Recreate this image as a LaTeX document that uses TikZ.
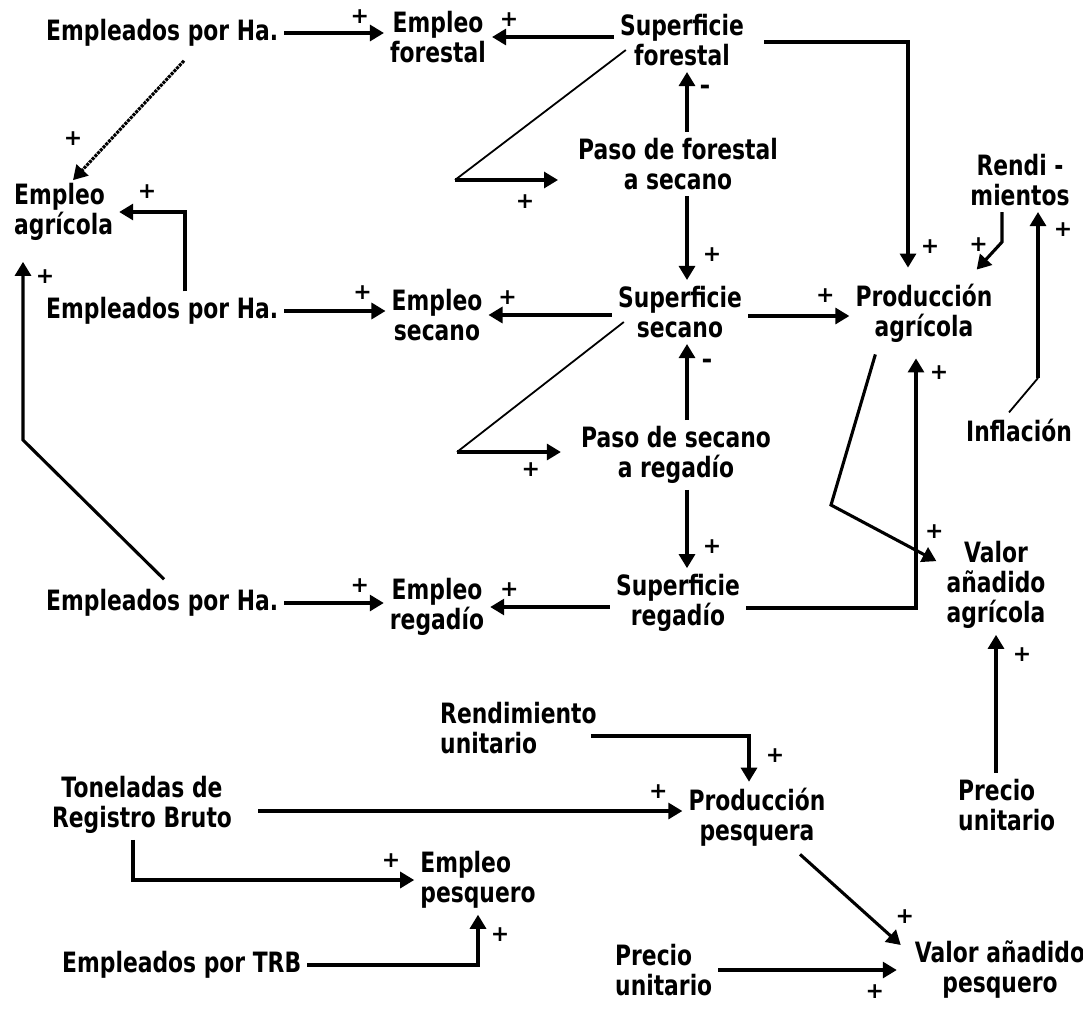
\documentclass[tikz,border=0pt]{standalone}
\usepackage{fontspec}
\newfontfamily\lblfont{DejaVu Sans Bold}[FakeStretch=0.78]
\newfontfamily\sgnfont{DejaVu Sans Bold}
\usetikzlibrary{arrows.meta,calc}

\begin{document}
\begin{tikzpicture}[x=1pt,y=-1pt,
  lbl/.style={font=\lblfont\fontsize{28}{30}\selectfont, align=center, inner sep=6pt},
  sgn/.style={font=\sgnfont\fontsize{22}{22}\selectfont, inner sep=0pt},
  neg/.style={font=\sgnfont\fontsize{26}{26}\selectfont, inner sep=0pt},
  arr/.style={line width=3.1pt, -{Triangle[length=14pt,width=16pt]}},
  grain/.style={line width=2pt, dash pattern=on 3pt off 1pt},
  fine/.style={line width=1.8pt},
  slim/.style={line width=2.3pt},
  tipoff/.style 2 args={pos=1, xshift=#1, yshift=#2},
]
\useasboundingbox (0,0) rectangle (1083,1009);

% ---- variables ----
\node[lbl, anchor=west] (eha1) at (40,33) {Empleados por Ha.};
\node[lbl] (empfor) at (438,37) {Empleo\\forestal};
\node[lbl] (supfor) at (682,40) {Superficie\\forestal};
\node[lbl] (pasofs) at (678,164) {Paso de forestal\\a secano};
\node[lbl, anchor=west, align=left] (empagr) at (8,212) {Empleo\\agrícola};
\node[lbl] (rend) at (1020,180) {Rendi -\\mientos};
\node[lbl, anchor=west] (eha2) at (40,311) {Empleados por Ha.};
\node[lbl] (empsec) at (437,315) {Empleo\\secano};
\node[lbl] (supsec) at (680,312) {Superficie\\secano};
\node[lbl] (prodagr) at (924,313) {Producción\\agrícola};
\node[lbl] (infl) at (1019,430) {Inflación};
\node[lbl] (pasosr) at (676,455) {Paso de secano\\a regadío};
\node[lbl, anchor=west] (eha3) at (40,603) {Empleados por Ha.};
\node[lbl] (empreg) at (437,607) {Empleo\\regadío};
\node[lbl] (supreg) at (678,603) {Superficie\\regadío};
\node[lbl] (vaagr) at (996,585) {Valor\\añadido\\agrícola};
\node[lbl, anchor=west, align=left] (rendunit) at (434,728) {Rendimiento\\unitario};
\node[lbl] (trb) at (142,805) {Toneladas de\\Registro Bruto};
\node[lbl] (prodpes) at (757,817) {Producción\\pesquera};
\node[lbl, anchor=west, align=left] (precio1) at (952,805) {Precio\\unitario};
\node[lbl, align=left] (emppes) at (478,880) {Empleo\\pesquero};
\node[lbl, anchor=west] (etrb) at (56,965) {Empleados por TRB};
\node[lbl, anchor=west, align=left] (precio2) at (609,970) {Precio\\unitario};
\node[lbl] (vapes) at (1000,970) {Valor añadido\\pesquero};

% ---- helper points ----
\coordinate (axF) at (687,0);
\coordinate (fA) at (455,180);
\coordinate (fB) at (457,452);
\coordinate (rB) at (1002,242);
\coordinate (iB) at (1038,378);
\coordinate (v2) at ($(eha2.north west)+(145,0)$);
\coordinate (k3) at (23,440);
\coordinate (bA) at (831,505);
\coordinate (tB) at ($(trb.east)+(20,6)$);
\coordinate (sS) at ($(supsec.east)+(0,4)$);

% ---- forestal block ----
\draw[arr] (eha1.east) -- (eha1.east -| empfor.west)
  node[sgn,tipoff={-24pt}{16pt}] (s1) {+};
\draw[arr] (empfor.east -| supfor.west) -- (empfor.east)
  node[sgn,tipoff={17pt}{17pt}] (s2) {+};
\draw[grain,arr] ($(eha1.south west)+(144,8)$) -- ($(empagr.north west)+(65,3)$)
  node[sgn,tipoff={0pt}{42pt}] (s3) {+};
\draw[fine] ($(supfor.west)+(12,10)$) -- (fA);
\draw[arr,shorten >=14pt] (fA) -- (fA -| pasofs.west)
  node[sgn,tipoff={-47pt}{-22pt}] (s4) {+};
\draw[arr] (pasofs.north -| axF) -- (supfor.south -| axF)
  node[neg,tipoff={18pt}{-18pt}] (m1) {-};
\draw[arr] (pasofs.south -| axF) -- (supsec.north -| axF)
  node[sgn,tipoff={25pt}{25pt}] (s6) {+};
\draw[arr] ($(supfor.east)+(14,2)$) -| ($(prodagr.north)+(-16,-10)$)
  node[sgn,tipoff={22pt}{21pt}] (s7) {+};

% ---- yields and inflation ----
\draw[fine,arr] (rend.south -| rB) -- (rB) -- ($(prodagr.north east)+(-22,-8)$)
  node[sgn,tipoff={2pt}{25pt}] (s8) {+};
\draw[fine] ($(infl.north)+(-10,0)$) -- (iB);
\draw[arr] (iB) -- (iB |- rend.south)
  node[sgn,tipoff={25pt}{-18pt}] (s9) {+};

% ---- agricultural employment ----
\draw[arr] (v2) |- (empagr.east)
  node[sgn,tipoff={28pt}{20pt}] (s10) {+};
\draw[slim,arr,shorten >=15pt] ($(eha3.north west)+(124,-4)$) -- (k3) -- (k3 |- empagr.south)
  node[sgn,tipoff={22pt}{-30pt}] (s11) {+};

% ---- secano block ----
\draw[arr] (eha2.east) -- (eha2.east -| empsec.west)
  node[sgn,tipoff={-23pt}{18pt}] (s12) {+};
\draw[arr] (empsec.east -| supsec.west) -- (empsec.east)
  node[sgn,tipoff={19pt}{17pt}] (s13) {+};
\draw[arr] (sS) -- (sS -| prodagr.west)
  node[sgn,tipoff={-24pt}{20pt}] (s14) {+};
\draw[fine] ($(supsec.west)+(12,10)$) -- (fB);
\draw[arr,shorten >=14pt] (fB) -- (fB -| pasosr.west)
  node[sgn,tipoff={-44pt}{-18pt}] (s15) {+};
\draw[arr] (pasosr.north -| axF) -- (supsec.south -| axF)
  node[neg,tipoff={20pt}{-20pt}] (m2) {-};
\draw[arr] (pasosr.south -| axF) -- (supreg.north -| axF)
  node[sgn,tipoff={25pt}{22pt}] (s17) {+};

% ---- agricultural value added ----
\draw[slim,arr] ($(prodagr.south west)+(26,6)$) -- (bA) -- ($(vaagr.north west)+(-4,26)$)
  node[sgn,tipoff={-2pt}{30pt}] (s18) {+};
\draw[arr] ($(supreg.east)+(0,5)$) -| ($(prodagr.south)+(-8,10)$)
  node[sgn,tipoff={23pt}{-14pt}] (s19) {+};
\draw[arr] (precio1.north -| vaagr.south) -- (vaagr.south)
  node[sgn,tipoff={26pt}{-20pt}] (s22) {+};

% ---- regadio block ----
\draw[arr] (eha3.east) -- (eha3.east -| empreg.west)
  node[sgn,tipoff={-24pt}{17pt}] (s20) {+};
\draw[arr] (empreg.east -| supreg.west) -- (empreg.east)
  node[sgn,tipoff={19pt}{17pt}] (s21) {+};

% ---- fishing ----
\draw[arr] ($(rendunit.east)+(-12,8)$) -| ($(prodpes.north)+(-8,0)$)
  node[sgn,tipoff={26pt}{26pt}] (s23) {+};
\draw[arr] (tB) -- (tB -| prodpes.west)
  node[sgn,tipoff={-24pt}{19pt}] (s24) {+};
\draw[arr] ($(trb.south)+(-9,0)$) |- (emppes.west)
  node[sgn,tipoff={-23pt}{19pt}] (s25) {+};
\draw[arr] (etrb.east) -| (emppes.south)
  node[sgn,tipoff={22pt}{-20pt}] (s26) {+};
\draw[slim,arr] ($(prodpes.south)+(43,2)$) -- ($(vapes.north west)+(-8,10)$)
  node[sgn,tipoff={4pt}{28pt}] (s27) {+};
\draw[arr,shorten >=12pt] (precio2.east) -- (precio2.east -| vapes.west)
  node[sgn,tipoff={-34pt}{-22pt}] (s28) {+};
\end{tikzpicture}
\end{document}
